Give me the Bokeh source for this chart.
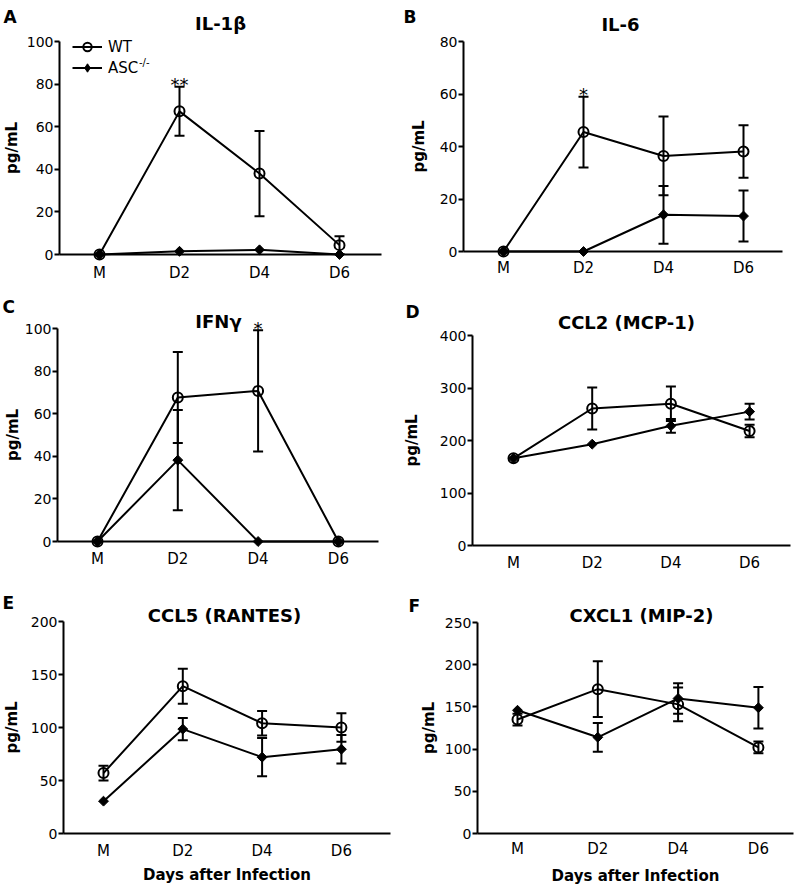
from bokeh.plotting import figure
from bokeh.models import (ColumnDataSource, Whisker, TeeHead, FixedTicker, Range1d,
                          Label, Legend, LegendItem)
from bokeh.layouts import column, row
from bokeh.embed import file_html
from bokeh.resources import INLINE
from bokeh.core.properties import value

FONT = "DejaVu Sans"

# ---------------- data ----------------
categories = ["M", "D2", "D4", "D6"]
x_label = "Days after Infection"
y_label = "pg/mL"

il1b_wt = [0.0, 67.2, 38.0, 4.4]
il1b_wt_sem = [0.0, 11.5, 20.0, 4.2]
il1b_asc = [0.0, 1.5, 2.2, 0.0]
il1b_asc_sem = [0.0, 0.0, 0.0, 0.0]
il1b_sig = ["", "**", "", ""]

il6_wt = [0.0, 45.5, 36.4, 38.1]
il6_wt_sem = [0.0, 13.5, 15.0, 10.0]
il6_asc = [0.0, 0.0, 14.0, 13.5]
il6_asc_sem = [0.0, 0.0, 11.0, 9.7]
il6_sig = ["", "*", "", ""]

ifng_wt = [0.0, 67.6, 70.7, 0.0]
ifng_wt_sem = [0.0, 21.4, 28.5, 0.0]
ifng_asc = [0.0, 38.2, 0.0, 0.0]
ifng_asc_sem = [0.0, 23.5, 0.0, 0.0]
ifng_sig = ["", "", "*", ""]

ccl2_wt = [166.0, 261.0, 270.0, 218.0]
ccl2_wt_sem = [0.0, 40.0, 33.0, 12.0]
ccl2_asc = [166.0, 193.0, 228.0, 255.0]
ccl2_asc_sem = [0.0, 0.0, 13.0, 15.0]
ccl2_sig = ["", "", "", ""]

ccl5_wt = [57.0, 139.0, 104.0, 100.0]
ccl5_wt_sem = [7.0, 16.5, 11.5, 13.5]
ccl5_asc = [30.5, 98.5, 72.0, 79.5]
ccl5_asc_sem = [0.0, 10.5, 18.0, 13.5]
ccl5_sig = ["", "", "", ""]

cxcl1_wt = [135.0, 171.0, 153.0, 102.0]
cxcl1_wt_sem = [7.0, 33.0, 20.0, 7.0]
cxcl1_asc = [146.0, 114.0, 160.0, 149.0]
cxcl1_asc_sem = [0.0, 17.0, 18.0, 24.5]
cxcl1_sig = ["", "", "", ""]


def style_text(t, size, bold=False):
    t.text_font = FONT
    t.text_font_size = size
    t.text_font_style = "bold" if bold else "normal"
    t.text_color = "black"


def panel(letter, title, wt, wt_err, asc, asc_err, sig, y_max, y_step, g,
          legend=False, xlab=False):
    W, H = g["size"]
    ax, ay, fw, fh = g["frame"]          # axis corner (canvas px) and axis lengths
    spacing = g["spacing"]               # px per category step
    sy = fh / y_max                      # px per y unit
    m_px = ax + g["first"]
    x_left = -m_px / spacing
    y_bottom = -(H - ay) / sy
    p = figure(width=W, height=H, output_backend="svg", toolbar_location=None,
               x_range=Range1d(x_left, x_left + W / spacing),
               y_range=Range1d(y_bottom, y_bottom + H / sy),
               min_border=0, min_border_left=0, min_border_right=0,
               min_border_top=0, min_border_bottom=0)
    p.outline_line_color = None
    p.xgrid.visible = False
    p.ygrid.visible = False
    p.background_fill_color = "white"
    p.border_fill_color = "white"

    x_ax = -g["first"] / spacing
    idx = list(range(len(categories)))
    xa = p.xaxis[0]
    ya = p.yaxis[0]
    xa.fixed_location = 0
    ya.fixed_location = x_ax
    xa.bounds = (x_ax, x_ax + fw / spacing)
    ya.bounds = (0, y_max)
    for a in (xa, ya):
        a.axis_line_width = 2
        a.axis_line_color = "black"
        a.minor_tick_line_color = None
        a.major_label_text_font = FONT
        a.major_label_text_color = "black"
        a.axis_label_text_color = "black"
    xa.ticker = FixedTicker(ticks=idx)
    xa.major_label_overrides = {i: c for i, c in zip(idx, categories)}
    xa.major_tick_line_color = None
    xa.major_tick_out = 0
    xa.major_tick_in = 0
    xa.major_label_standoff = g["xstand"]
    xa.major_label_text_font_size = "15px"

    ya.ticker = FixedTicker(ticks=list(range(0, y_max + 1, y_step)))
    ya.major_tick_out = 5
    ya.major_tick_in = 0
    ya.major_tick_line_width = 2
    ya.major_tick_line_color = "black"
    ya.major_label_standoff = 1
    ya.major_label_text_font_size = "14px"
    ya.axis_label = y_label
    ya.axis_label_text_font = FONT
    ya.axis_label_text_font_size = "15px"
    ya.axis_label_text_font_style = "bold"
    ya.axis_label_standoff = g["ystand"]
    if xlab:
        xa.axis_label = x_label
        xa.axis_label_text_font = FONT
        xa.axis_label_text_font_size = "15px"
        xa.axis_label_text_font_style = "bold"
        xa.axis_label_standoff = g["xlstand"]

    # error bars
    for vals, errs in ((wt, wt_err), (asc, asc_err)):
        keep = [i for i in idx if errs[i] > 0]
        src = ColumnDataSource(dict(
            x=[idx[i] for i in keep],
            upper=[vals[i] + errs[i] for i in keep],
            lower=[vals[i] - errs[i] for i in keep]))
        w = Whisker(source=src, base="x", upper="upper", lower="lower",
                    dimension="height", line_width=2, line_color="black",
                    upper_head=TeeHead(size=10, line_width=2, line_color="black"),
                    lower_head=TeeHead(size=10, line_width=2, line_color="black"))
        w.level = "glyph"
        p.add_layout(w)

    src_wt = ColumnDataSource(dict(x=idx, y=wt))
    src_asc = ColumnDataSource(dict(x=idx, y=asc))
    l_asc = p.line("x", "y", source=src_asc, line_width=2, line_color="black")
    l_wt = p.line("x", "y", source=src_wt, line_width=2, line_color="black")
    p.scatter("x", "y", source=src_asc, marker="square", angle=0.7853981634,
              size=7, fill_color="black", line_color="black", line_width=1)
    s_wt = p.scatter("x", "y", source=src_wt, marker="circle", size=10,
                     fill_color=None, line_color="black", line_width=2)

    # significance marks
    sk = [i for i in idx if sig[i]]
    if sk:
        ssrc = ColumnDataSource(dict(x=[idx[i] for i in sk],
                                     y=[wt[i] + wt_err[i] for i in sk],
                                     t=[sig[i] for i in sk]))
        p.text("x", "y", text="t", source=ssrc, text_font=value(FONT),
               text_font_size="18px", text_align="center",
               text_baseline="alphabetic", y_offset=-2, text_color="black")

    # title and panel letter (screen units = canvas px from bottom-left)
    tx, tb = g["title"]
    tl = Label(x=tx, y=H - tb, x_units="screen", y_units="screen", text=title,
               text_align="center", text_baseline="alphabetic")
    style_text(tl, "18px", bold=True)
    p.add_layout(tl)
    lx, lb = g["letter"]
    lab = Label(x=lx, y=H - lb, x_units="screen", y_units="screen",
                text=letter, text_align="left", text_baseline="alphabetic")
    style_text(lab, "17px", bold=True)
    p.add_layout(lab)

    if legend:
        s_leg = p.scatter("x", "y", source=src_asc, marker="diamond", size=10,
                          fill_color="black", line_color="black", visible=False)
        leg = Legend(items=[LegendItem(label="WT", renderers=[l_wt, s_wt]),
                            LegendItem(label="ASC", renderers=[l_asc, s_leg])],
                     location=g["legend"], orientation="vertical",
                     glyph_width=30, glyph_height=21, label_height=21,
                     label_standoff=6, padding=0, spacing=0, margin=0,
                     border_line_color=None, background_fill_alpha=0,
                     label_text_font=FONT, label_text_font_size="15px",
                     label_text_color="black")
        p.add_layout(leg)
        sx, sc = g["sup"]
        sup = Label(x=sx, y=H - sc, x_units="screen", y_units="screen", text="-/-",
                    text_align="left", text_baseline="middle")
        style_text(sup, "10px")
        p.add_layout(sup)
    return p


# canvas geometry (px): panels tile the 800 x 884 page
gA = dict(size=(400, 290), frame=(59, 254, 322, 213), first=40, spacing=80,
          title=(220, 23), letter=(3, 16.5), ystand=3, xstand=9,
          legend=(72, 212), sup=(138.5, 62))
gB = dict(size=(400, 290), frame=(63, 251, 319, 210), first=40, spacing=80,
          title=(220, 24), letter=(3, 16.5), ystand=9, xstand=7)
gC = dict(size=(400, 300), frame=(57, 251, 321, 213), first=40, spacing=80.3,
          title=(218, 30.5), letter=(2, 16.5), ystand=0, xstand=8)
gD = dict(size=(400, 300), frame=(72, 255, 318, 210), first=41, spacing=78.7,
          title=(226, 32), letter=(5, 21.5), ystand=16, xstand=8)
gE = dict(size=(400, 294), frame=(63, 243, 327, 212), first=40, spacing=79.3,
          title=(224, 25), letter=(2, 12.5), ystand=7, xstand=8, xlstand=3)
gF = dict(size=(400, 294), frame=(77, 243, 316, 211), first=40, spacing=80.3,
          title=(241, 25), letter=(8, 15), ystand=4, xstand=6, xlstand=6)

pA = panel("A", "IL-1β", il1b_wt, il1b_wt_sem, il1b_asc, il1b_asc_sem, il1b_sig, 100, 20, gA, legend=True)
pB = panel("B", "IL-6", il6_wt, il6_wt_sem, il6_asc, il6_asc_sem, il6_sig, 80, 20, gB)
pC = panel("C", "IFNγ", ifng_wt, ifng_wt_sem, ifng_asc, ifng_asc_sem, ifng_sig, 100, 20, gC)
pD = panel("D", "CCL2 (MCP-1)", ccl2_wt, ccl2_wt_sem, ccl2_asc, ccl2_asc_sem, ccl2_sig, 400, 100, gD)
pE = panel("E", "CCL5 (RANTES)", ccl5_wt, ccl5_wt_sem, ccl5_asc, ccl5_asc_sem, ccl5_sig, 200, 50, gE, xlab=True)
pF = panel("F", "CXCL1 (MIP-2)", cxcl1_wt, cxcl1_wt_sem, cxcl1_asc, cxcl1_asc_sem, cxcl1_sig, 250, 50, gF, xlab=True)

layout = column(row(pA, pB), row(pC, pD), row(pE, pF))
open("out.html", "w").write(file_html(layout, INLINE))
